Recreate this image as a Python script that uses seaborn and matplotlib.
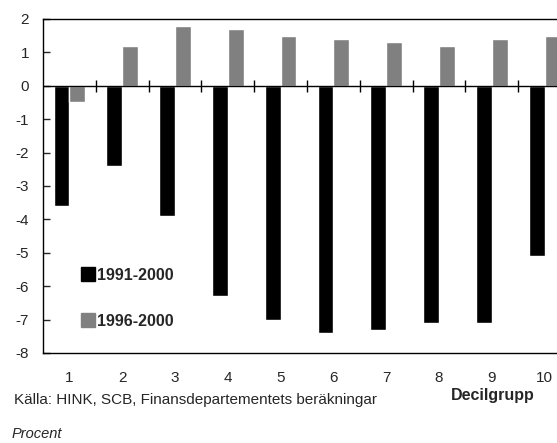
import pandas as pd
import seaborn as sns
import matplotlib.pyplot as plt

# Deciles and change in share (procent)
deciles = ['1', '2', '3', '4', '5', '6', '7', '8', '9', '10']
change_1991_2000 = [-3.6, -2.4, -3.9, -6.3, -7.0, -7.4, -7.3, -7.1, -7.1, -5.1]
change_1996_2000 = [-0.5, 1.2, 1.8, 1.7, 1.5, 1.4, 1.3, 1.2, 1.4, 1.5]
series_names = ['1991-2000', '1996-2000']
yticks = [2, 1, 0, -1, -2, -3, -4, -5, -6, -7, -8]

df = pd.DataFrame({
    'Decil': deciles * 2,
    'Period': [series_names[0]] * len(deciles) + [series_names[1]] * len(deciles),
    'Change': change_1991_2000 + change_1996_2000,
})

sns.set_style('white')
plt.rcParams['font.family'] = ['Liberation Sans', 'DejaVu Sans']

fig = plt.figure(figsize=(5.57, 4.43), dpi=100)
ax = fig.add_axes([0.0772, 0.2032, 0.948, 0.754])

sns.barplot(data=df, x='Decil', y='Change', hue='Period', order=deciles,
            hue_order=series_names, palette=['#000000', '#808080'],
            width=0.6, saturation=1, errorbar=None, ax=ax, legend=False)

ax.set_xlim(-0.5, len(deciles) - 0.5)
ax.set_ylim(-8, 2)
ax.set_yticks(yticks)
ax.set_yticklabels([str(t) for t in yticks])
ax.set_xlabel('')
ax.set_ylabel('')

# zero line with small ticks between decile groups
ax.axhline(0, color='black', lw=1, zorder=3)
bounds = [i + 0.5 for i in range(len(deciles) - 1)]
ax.plot(bounds, [0] * len(bounds), marker='|', linestyle='none', ms=8,
        mew=1, color='black', zorder=4)

for side in ['left', 'top', 'bottom', 'right']:
    ax.spines[side].set_color('black')
    ax.spines[side].set_linewidth(1)
ax.tick_params(axis='y', direction='in', length=5, width=1, pad=10,
               labelsize=11, left=True)
ax.tick_params(axis='x', length=0, pad=13, labelsize=11)

# legend inside plot
handles = [plt.Rectangle((0, 0), 1, 1, color=c) for c in ['#000000', '#808080']]
ax.legend(handles, series_names, loc='upper left', bbox_to_anchor=(0.045, 0.30),
          frameon=False, handlelength=0.85, handleheight=1.0, handletextpad=0.15,
          labelspacing=1.9, prop={'weight': 'bold', 'size': 11.5})

fig.text(0.025, 0.098, 'Källa: HINK, SCB, Finansdepartementets beräkningar',
         fontsize=11, va='center')
fig.text(0.81, 0.108, 'Decilgrupp', fontsize=11.5, fontweight='bold', va='center')
fig.text(0.02, 0.02, 'Procent', fontsize=10.5, style='italic', va='center')

fig.savefig('out.png', dpi=100)
